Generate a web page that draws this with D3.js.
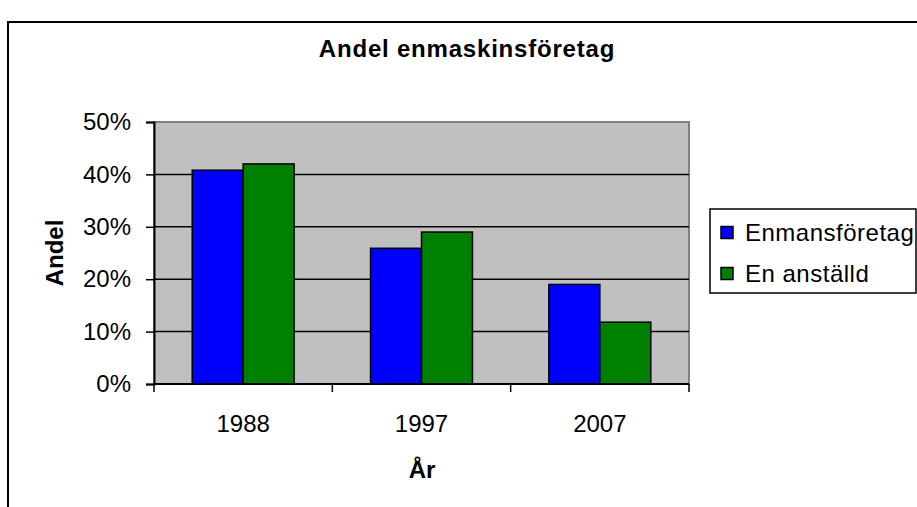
<!DOCTYPE html>
<html>
<head>
<meta charset="utf-8">
<script src="https://cdnjs.cloudflare.com/ajax/libs/d3/7.8.5/d3.min.js"></script>
<style>
  body { margin: 0; background: #fff; }
  text { font-family: "Liberation Sans", Arial, sans-serif; fill: #000; }
</style>
</head>
<body>
<script>
const years = ["1988", "1997", "2007"];
const seriesNames = ["Enmansföretag", "En anställd"];
const enmans = [0.408, 0.259, 0.190];
const enAnstalld = [0.420, 0.290, 0.118];
const yTicks = [0, 0.1, 0.2, 0.3, 0.4, 0.5];

const blueColor = "#0000ff";
const greenColor = "#008000";
const plotBg = "#c0c0c0";

var width = 917,
  height = 507;

var plot = { left: 154, right: 689, top: 122, bottom: 384 };

var svg = d3
  .select("body")
  .append("svg")
  .attr("width", width)
  .attr("height", height);

// outer chart frame (runs off the right and bottom edge)
svg
  .append("rect")
  .attr("x", 8)
  .attr("y", 22)
  .attr("width", 1000)
  .attr("height", 600)
  .attr("fill", "#fff")
  .attr("stroke", "#000")
  .attr("stroke-width", 2);

var xScale = d3
  .scaleBand()
  .domain(years)
  .range([plot.left, plot.right]);

var xInner = d3
  .scaleBand()
  .domain(seriesNames)
  .range([0, xScale.bandwidth()])
  .paddingOuter(0.75)
  .paddingInner(0);

var yScale = d3.scaleLinear().domain([0, 0.5]).range([plot.bottom, plot.top]);

// plot background
svg
  .append("rect")
  .attr("x", plot.left)
  .attr("y", plot.top)
  .attr("width", plot.right - plot.left)
  .attr("height", plot.bottom - plot.top)
  .attr("fill", plotBg)
  .attr("stroke", "#808080")
  .attr("stroke-width", 2);

// gridlines
svg
  .append("g")
  .selectAll("line")
  .data(yTicks.slice(1))
  .enter()
  .append("line")
  .attr("x1", plot.left)
  .attr("x2", plot.right)
  .attr("y1", (d) => yScale(d))
  .attr("y2", (d) => yScale(d))
  .attr("stroke", (d) => (d === 0.5 ? "#808080" : "#000"))
  .attr("stroke-width", 1.5);

var rows = years.map((y, i) => ({
  year: y,
  values: [
    { name: seriesNames[0], v: enmans[i], color: blueColor },
    { name: seriesNames[1], v: enAnstalld[i], color: greenColor },
  ],
}));

svg
  .append("g")
  .selectAll("g")
  .data(rows)
  .enter()
  .append("g")
  .attr("transform", (d) => `translate(${xScale(d.year)},0)`)
  .selectAll("rect")
  .data((d) => d.values)
  .enter()
  .append("rect")
  .attr("x", (d) => xInner(d.name))
  .attr("y", (d) => yScale(d.v))
  .attr("width", xInner.bandwidth())
  .attr("height", (d) => yScale(0) - yScale(d.v))
  .attr("fill", (d) => d.color)
  .attr("stroke", "#000")
  .attr("stroke-width", 1.5);

// y axis
var yAxis = d3
  .axisLeft(yScale)
  .tickValues(yTicks)
  .tickFormat(d3.format(".0%"))
  .tickSize(8)
  .tickPadding(15);

var yG = svg
  .append("g")
  .attr("transform", `translate(${plot.left},0)`)
  .call(yAxis);

yG.select(".domain").attr("stroke", "#000").attr("stroke-width", 2);
yG.selectAll(".tick line").attr("stroke", "#000").attr("stroke-width", 1.5);
yG.selectAll(".tick text")
  .style("font-size", "24px")
  .style("font-family", "'Liberation Sans', Arial, sans-serif");

// x axis: ticks between categories
var xBounds = years.map((y) => xScale(y)).concat([plot.right]);

svg
  .append("line")
  .attr("x1", plot.left)
  .attr("x2", plot.right)
  .attr("y1", plot.bottom)
  .attr("y2", plot.bottom)
  .attr("stroke", "#000")
  .attr("stroke-width", 2);

svg
  .append("g")
  .selectAll("line")
  .data(xBounds)
  .enter()
  .append("line")
  .attr("x1", (d) => d)
  .attr("x2", (d) => d)
  .attr("y1", plot.bottom)
  .attr("y2", plot.bottom + 8)
  .attr("stroke", "#000")
  .attr("stroke-width", 1.5);

svg
  .append("g")
  .selectAll("text")
  .data(years)
  .enter()
  .append("text")
  .text((d) => d)
  .attr("x", (d) => xScale(d) + xScale.bandwidth() / 2)
  .attr("y", 432)
  .attr("text-anchor", "middle")
  .style("font-size", "24px");

// titles
svg
  .append("text")
  .text("Andel enmaskinsföretag")
  .attr("x", 467)
  .attr("y", 57)
  .attr("text-anchor", "middle")
  .style("font-weight", "bold")
  .style("font-size", "24px")
  .style("letter-spacing", "0.8px");

svg
  .append("text")
  .text("År")
  .attr("x", 422)
  .attr("y", 478)
  .attr("text-anchor", "middle")
  .style("font-weight", "bold")
  .style("font-size", "24px");

svg
  .append("text")
  .text("Andel")
  .attr("transform", "translate(63,253) rotate(-90)")
  .attr("text-anchor", "middle")
  .style("font-weight", "bold")
  .style("font-size", "24px");

// legend
var legend = svg.append("g");

legend
  .append("rect")
  .attr("x", 710)
  .attr("y", 209)
  .attr("width", 206)
  .attr("height", 84)
  .attr("fill", "#fff")
  .attr("stroke", "#000")
  .attr("stroke-width", 1.5);

var legendItems = legend
  .selectAll(".legend-item")
  .data([
    { name: seriesNames[0], color: blueColor },
    { name: seriesNames[1], color: greenColor },
  ])
  .enter()
  .append("g")
  .attr("class", "legend-item")
  .attr("transform", (d, i) => `translate(721,${232.5 + i * 41})`);

legendItems
  .append("rect")
  .attr("x", 0)
  .attr("y", -6)
  .attr("width", 12)
  .attr("height", 12)
  .attr("fill", (d) => d.color)
  .attr("stroke", "#000")
  .attr("stroke-width", 1.5);

legendItems
  .append("text")
  .text((d) => d.name)
  .attr("x", 24)
  .attr("y", 8.6)
  .style("font-size", "24px")
  .style("letter-spacing", "0.5px");
</script>
</body>
</html>
